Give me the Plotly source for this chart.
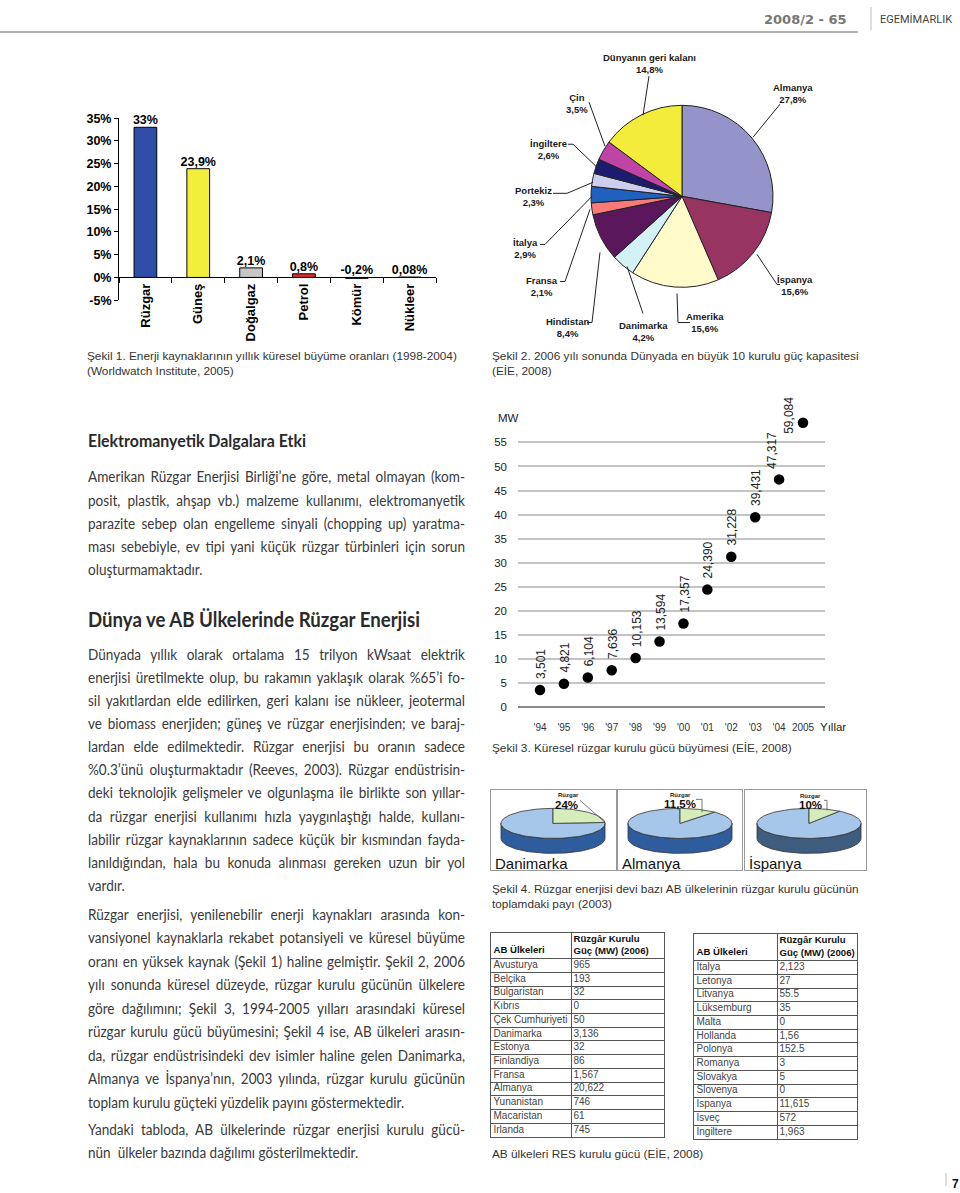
import math
import json
import plotly.graph_objects as go

W, H = 960, 1193
def X(px): return px / W
# the photographed page maps paper height onto ~1177 px starting 8 px down; compensate
def Y(py): return 1 - (py - 8) / 1177

BODY = "Lato, Roboto, sans-serif"
CAP = "'Liberation Sans', Arial, sans-serif"
ARIAL = "Arial, 'Liberation Sans', sans-serif"

# ---------------- Şekil 1 data ----------------
sources = ["Rüzgar", "Güneş", "Doğalgaz", "Petrol", "Kömür", "Nükleer"]
growth = [33, 23.9, 2.1, 0.8, -0.2, 0.08]
bar_colors = ["#2F4DA6", "#F2EF3C", "#C6C6C6", "#E02A2A", "#1A1A1A", "#FFFFFF"]
growth_ticks = [-5, 0, 5, 10, 15, 20, 25, 30, 35]

# ---------------- Şekil 2 data ----------------
countries = ["Almanya", "İspanya", "Amerika", "Danimarka", "Hindistan", "Fransa",
             "İtalya", "Portekiz", "İngiltere", "Çin", "Dünyanın geri kalanı"]
shares = [27.8, 15.6, 15.6, 4.2, 8.4, 2.1, 2.9, 2.3, 2.6, 3.5, 14.8]
pie_colors = ["#9494CA", "#973462", "#FFFBCB", "#D2F2F6", "#5A175C", "#F97A78",
              "#2060BE", "#CFCDEE", "#1C1B6E", "#C044A6", "#F3EC3A"]

# ---------------- Şekil 3 data ----------------
years = list(range(1994, 2006))
year_labels = ["'94", "'95", "'96", "'97", "'98", "'99", "'00", "'01", "'02", "'03", "'04", "2005"]
capacity = [3.501, 4.821, 6.104, 7.636, 10.153, 13.594, 17.357, 24.390, 31.228, 39.431, 47.317, 59.084]
capacity_labels = ["3,501", "4,821", "6,104", "7,636", "10,153", "13,594", "17,357",
                   "24,390", "31,228", "39,431", "47,317", "59,084"]
mw_ticks = [0, 5, 10, 15, 20, 25, 30, 35, 40, 45, 50, 55]

# ---------------- Şekil 4 data ----------------
eu3 = ["Danimarka", "Almanya", "İspanya"]
wind_share = [24, 11.5, 10]
wind_share_labels = ["24%", "11,5%", "10%"]

# ---------------- Tables ----------------
t1_countries = ["Avusturya", "Belçika", "Bulgaristan", "Kıbrıs", "Çek Cumhuriyeti", "Danimarka",
                "Estonya", "Finlandiya", "Fransa", "Almanya", "Yunanistan", "Macaristan", "İrlanda"]
t1_values = ["965", "193", "32", "0", "50", "3,136", "32", "86", "1,567", "20,622", "746", "61", "745"]
t2_countries = ["İtalya", "Letonya", "Litvanya", "Lüksemburg", "Malta", "Hollanda", "Polonya",
                "Romanya", "Slovakya", "Slovenya", "İspanya", "İsveç", "İngiltere"]
t2_values = ["2,123", "27", "55.5", "35", "0", "1,56", "152.5", "3", "5", "0", "11,615", "572", "1,963"]
table_header_1 = "<b>AB Ülkeleri</b>"
table_header_2 = "<b>Rüzgâr Kurulu<br>Güç (MW) (2006)</b>"

# ---------------- Body text ----------------
title1 = "Elektromanyetik Dalgalara Etki"
para1 = [
    "Amerikan Rüzgar Enerjisi Birliği’ne göre, metal olmayan (kom-",
    "posit, plastik, ahşap vb.) malzeme kullanımı, elektromanyetik",
    "parazite sebep olan engelleme sinyali (chopping up) yaratma-",
    "ması sebebiyle, ev tipi yani küçük rüzgar türbinleri için sorun",
    "oluşturmamaktadır.",
]
title2 = "Dünya ve AB Ülkelerinde Rüzgar Enerjisi"
para2 = [
    "Dünyada yıllık olarak ortalama 15 trilyon kWsaat elektrik",
    "enerjisi üretilmekte olup, bu rakamın yaklaşık olarak %65’i fo-",
    "sil yakıtlardan elde edilirken, geri kalanı ise nükleer, jeotermal",
    "ve biomass enerjiden; güneş ve rüzgar enerjisinden; ve baraj-",
    "lardan elde edilmektedir. Rüzgar enerjisi bu oranın sadece",
    "%0.3’ünü oluşturmaktadır (Reeves, 2003). Rüzgar endüstrisin-",
    "deki teknolojik gelişmeler ve olgunlaşma ile birlikte son yıllar-",
    "da rüzgar enerjisi kullanımı hızla yaygınlaştığı halde, kullanı-",
    "labilir rüzgar kaynaklarının sadece küçük bir kısmından fayda-",
    "lanıldığından, hala bu konuda alınması gereken uzun bir yol",
    "vardır.",
]
para3 = [
    "Rüzgar enerjisi, yenilenebilir enerji kaynakları arasında kon-",
    "vansiyonel kaynaklarla rekabet potansiyeli ve küresel büyüme",
    "oranı en yüksek kaynak (Şekil 1) haline gelmiştir. Şekil 2, 2006",
    "yılı sonunda küresel düzeyde, rüzgar kurulu gücünün ülkelere",
    "göre dağılımını; Şekil 3, 1994-2005 yılları arasındaki küresel",
    "rüzgar kurulu gücü büyümesini; Şekil 4 ise, AB ülkeleri arasın-",
    "da, rüzgar endüstrisindeki dev isimler haline gelen Danimarka,",
    "Almanya ve İspanya’nın, 2003 yılında, rüzgar kurulu gücünün",
    "toplam kurulu güçteki yüzdelik payını göstermektedir.",
]
para4 = [
    "Yandaki tabloda, AB ülkelerinde rüzgar enerjisi kurulu gücü-",
    "nün  ülkeler bazında dağılımı gösterilmektedir.",
]

fig = go.Figure()

def txt(s, px, py, size, color="#333", family=BODY, anchor="left", weight="normal", vanchor="middle", align="left"):
    fig.add_annotation(x=X(px), y=Y(py), xref="paper", yref="paper", text=s, showarrow=False,
                       xanchor=anchor, yanchor=vanchor, align=align,
                       font=dict(family=family, size=size, color=color, weight=weight))

def pline(pts, color="#222", width=1):
    d = "M " + " L ".join(f"{X(a)},{Y(b)}" for a, b in pts)
    fig.add_shape(type="path", path=d, xref="paper", yref="paper",
                  line=dict(color=color, width=width))

# ================= Şekil 1: bar chart =================
fig.add_trace(go.Bar(x=sources, y=growth, width=0.43,
                     marker=dict(color=bar_colors, line=dict(color="black", width=1)),
                     xaxis="x", yaxis="y", showlegend=False, hoverinfo="skip"))
bar_text = [f"{v:g}".replace(".", ",") + "%" for v in growth]
fig.add_trace(go.Scatter(x=sources, y=[max(v, 0) for v in growth], mode="text", text=bar_text,
                         textposition="top center", cliponaxis=False,
                         textfont=dict(family=ARIAL, size=12.5, color="black", weight="bold"),
                         xaxis="x", yaxis="y", showlegend=False, hoverinfo="skip"))
b_top, b_bot = 119, 300.7
zero_px = b_top + 35 * (b_bot - b_top) / 40

# ================= Şekil 2: pie =================
fig.add_trace(go.Pie(values=shares, labels=countries, sort=False, direction="clockwise", rotation=0,
                     marker=dict(colors=pie_colors, line=dict(color="#222", width=1)),
                     textinfo="none", hoverinfo="label+percent", showlegend=False,
                     domain=dict(x=[X(591), X(773)], y=[Y(288), Y(106)])))
pie_label_pos = {
    "Dünyanın geri kalanı": (649, 64), "Almanya": (793, 94), "Çin": (577, 104),
    "İngiltere": (548, 150), "Portekiz": (533, 197), "İtalya": (525, 249),
    "Fransa": (542, 287), "Hindistan": (567, 328), "Danimarka": (643, 332),
    "Amerika": (705, 323), "İspanya": (795, 286),
}
pie_leaders = {
    "Dünyanın geri kalanı": [(649, 77), (643, 116)],
    "Almanya": [(780, 105), (753, 138)],
    "Çin": [(589, 103), (605, 147)],
    "İngiltere": [(568, 145), (573, 145), (597, 168)],
    "Portekiz": [(553, 194), (567, 194), (593, 183)],
    "İtalya": [(540, 245), (545, 245), (592, 197)],
    "Fransa": [(560, 282), (565, 282), (590, 210)],
    "Hindistan": [(587, 323), (592, 323), (600, 253)],
    "Danimarka": [(643, 314), (627, 267)],
    "Amerika": [(690, 323), (678, 323), (677, 294)],
    "İspanya": [(780, 285), (777, 285), (757, 255)],
}
for name, val in zip(countries, shares):
    px, py = pie_label_pos[name]
    txt(f"{name}<br>{val:.1f}%".replace(".", ","), px, py, 9.5, color="#1a1a1a", family=ARIAL,
        anchor="center", weight="bold", align="center")
    pline(pie_leaders[name], color="#222", width=1)

# ================= Şekil 3: scatter =================
fig.add_trace(go.Scatter(x=years, y=capacity, mode="markers",
                         marker=dict(size=10.5, color="black"),
                         xaxis="x2", yaxis="y2", showlegend=False, hoverinfo="x+y"))
for yr, v, lab in zip(years, capacity, capacity_labels):
    kw = dict(xanchor="center", yanchor="bottom", xshift=1, yshift=9)
    if yr == 2005:
        kw = dict(xanchor="right", yanchor="middle", xshift=-5, yshift=7)
    elif yr == 2004:
        kw = dict(xanchor="center", yanchor="bottom", xshift=-7, yshift=8)
    fig.add_annotation(x=yr, y=v, xref="x2", yref="y2", text=lab, textangle=-90, showarrow=False,
                       font=dict(family=ARIAL, size=12, color="#222"), **kw)
txt("MW", 496, 418, 11.5, color="#222", family=ARIAL)
txt("Yıllar", 833, 727, 11.5, color="#222", family=ARIAL, anchor="center")
s_top = 706.7 - 61 * 4.8

# ================= Şekil 4: 3D pies =================
boxes = [(491, 616), (618, 742), (745, 866)]
box_top, box_bot = 790, 870
centers = [62, 62, 64]
side_colors = ["#2E5C9C", "#2E5C9C", "#3E5D7E"]
label_offsets = [(77, 5, 75, 15), (62, 5, 62, 14), (65, 6, 65, 15)]
leaders4 = [
    [(89, 10), (114, 32)],
    [(78, 9), (84, 9), (84, 22)],
    [(79, 10), (82, 10), (82, 20)],
]
rx, ry, depth, cy = 52, 15, 15, 33

def ell(cx, t, dy=0):
    r = math.radians(t)
    return cx + rx * math.sin(r), cy - ry * math.cos(r) + dy

for k, (name, share, slab) in enumerate(zip(eu3, wind_share, wind_share_labels)):
    xa, ya = f"x{k+3}", f"y{k+3}"
    cx = centers[k]
    ang = share * 3.6
    top = [ell(cx, 90 + i * 3) for i in range(61)]
    bot = [ell(cx, 270 - i * 3, depth) for i in range(61)]
    pts = top + bot + [top[0]]
    fig.add_trace(go.Scatter(x=[p[0] for p in pts], y=[p[1] for p in pts], fill="toself",
                             fillcolor=side_colors[k], mode="lines", line=dict(color="#333", width=0.8),
                             xaxis=xa, yaxis=ya, showlegend=False, hoverinfo="skip"))
    n = 90
    arc = [ell(cx, ang + (360 - ang) * i / n) for i in range(n + 1)]
    pts = [(cx, cy)] + arc + [(cx, cy)]
    fig.add_trace(go.Scatter(x=[p[0] for p in pts], y=[p[1] for p in pts], fill="toself",
                             fillcolor="#A7C7EA", mode="lines", line=dict(color="#333", width=0.8),
                             xaxis=xa, yaxis=ya, showlegend=False, hoverinfo="skip"))
    arc = [ell(cx, ang * i / 30) for i in range(31)]
    pts = [(cx, cy)] + arc + [(cx, cy)]
    fig.add_trace(go.Scatter(x=[p[0] for p in pts], y=[p[1] for p in pts], fill="toself",
                             fillcolor="#D5EDBB", mode="lines", line=dict(color="#333", width=0.8),
                             xaxis=xa, yaxis=ya, showlegend=False, hoverinfo="skip"))
    lx1, ly1, lx2, ly2 = label_offsets[k]
    fig.add_annotation(x=lx1, y=ly1, xref=xa, yref=ya, text="Rüzgar", showarrow=False,
                       font=dict(family=ARIAL, size=6, color="#222", weight="bold"))
    fig.add_annotation(x=lx2, y=ly2, xref=xa, yref=ya, text=slab, showarrow=False,
                       font=dict(family=ARIAL, size=11.5, color="#111", weight="bold"))
    lp = leaders4[k]
    fig.add_trace(go.Scatter(x=[p[0] for p in lp], y=[p[1] for p in lp], mode="lines",
                             line=dict(color="#555", width=0.8), xaxis=xa, yaxis=ya,
                             showlegend=False, hoverinfo="skip"))
    fig.add_annotation(x=2, y=73, xref=xa, yref=ya, text=name, showarrow=False,
                       xanchor="left", yanchor="middle",
                       font=dict(family=CAP, size=15, color="#111"))

# ================= Tables (drawn on cartesian axes) =================
tables = [
    dict(names=t1_countries, vals=t1_values, x0=491, x1=664, y0=932, y1=1136, col=80, head=26),
    dict(names=t2_countries, vals=t2_values, x0=694, x1=857, y0=933, y1=1138, col=83, head=27),
]
table_axes = {}
for k, t in enumerate(tables):
    ax = k + 6
    w = t["x1"] - t["x0"]
    h = t["y1"] - t["y0"]
    nrow = len(t["names"])
    rh = (h - t["head"]) / nrow
    bounds = [t["head"] + rh * i for i in range(nrow)]
    centers_y = [t["head"] + rh * (i + 0.5) for i in range(nrow)]
    xa, ya = f"x{ax}", f"y{ax}"
    fig.add_trace(go.Scatter(x=[2.5] * nrow + [t["col"] + 2.5] * nrow, y=centers_y + centers_y,
                             text=t["names"] + t["vals"], mode="text", textposition="middle right",
                             textfont=dict(family=ARIAL, size=10, color="#444"),
                             xaxis=xa, yaxis=ya, showlegend=False, hoverinfo="skip", cliponaxis=False))
    fig.add_trace(go.Scatter(x=[2.5, t["col"] + 2.5], y=[t["head"] - 8, t["head"] / 2],
                             text=[table_header_1, table_header_2], mode="text",
                             textposition="middle right",
                             textfont=dict(family=ARIAL, size=9.6, color="#111"),
                             xaxis=xa, yaxis=ya, showlegend=False, hoverinfo="skip", cliponaxis=False))
    grid = dict(showline=True, mirror=True, linecolor="#555", linewidth=1, showticklabels=False,
                ticks="", showgrid=True, gridcolor="#555", gridwidth=1, zeroline=False, fixedrange=True)
    table_axes[f"xaxis{ax}"] = dict(domain=[X(t["x0"]), X(t["x1"])], range=[0, w], anchor=ya,
                                    tickvals=[t["col"]], **grid)
    table_axes[f"yaxis{ax}"] = dict(domain=[Y(t["y1"]), Y(t["y0"])], range=[h, 0], anchor=xa,
                                    tickvals=bounds, **grid)

# ================= Text =================
txt("2008/2 - 65", 849, 20, 13, color="#777", family="'DejaVu Sans', sans-serif", anchor="right", weight="bold")
txt("EGEMİMARLIK", 878, 20, 11, color="#444", family="Roboto, sans-serif")
pline([(0, 33), (858, 33)], color="#999", width=1.5)
pline([(871, 8), (871, 31)], color="#bbb", width=1)
txt("7", 955, 1183, 12, color="#111", family=ARIAL, anchor="center", weight="bold")
pline([(946, 1172), (946, 1185)], color="#bbb", width=1)

txt("Şekil 1. Enerji kaynaklarının yıllık küresel büyüme oranları (1998-2004)", 85, 356, 11.8, family=CAP)
txt("(Worldwatch Institute, 2005)", 85, 371, 11.8, family=CAP)
txt("Şekil 2. 2006 yılı sonunda Dünyada en büyük 10 kurulu güç kapasitesi", 490, 356, 11.8, family=CAP)
txt("(EİE, 2008)", 490, 371, 11.8, family=CAP)
txt("Şekil 3. Küresel rüzgar kurulu gücü büyümesi (EİE, 2008)", 490, 748, 11.8, family=CAP)
txt("Şekil 4. Rüzgar enerjisi devi bazı AB ülkelerinin rüzgar kurulu gücünün", 490, 889, 11.8, family=CAP)
txt("toplamdaki payı (2003)", 490, 903, 11.8, family=CAP)
txt("AB ülkeleri RES kurulu gücü (EİE, 2008)", 490, 1153, 11.8, family=CAP)

BODY_SIZE = 14.5
txt(title1, 86, 441, 16.5, color="#2a2a2a", weight="bold")
for i, s in enumerate(para1):
    txt(s, 86, 477 + i * 23.25, BODY_SIZE, color="#3a3a3a")
txt(title2, 86, 619, 20, color="#2a2a2a", weight="bold")
for i, s in enumerate(para2):
    txt(s, 86, 654 + i * 23.1, BODY_SIZE, color="#3a3a3a")
for i, s in enumerate(para3):
    txt(s, 86, 914 + i * 23.4, BODY_SIZE, color="#3a3a3a")
for i, s in enumerate(para4):
    txt(s, 86, 1129 + i * 23, BODY_SIZE, color="#3a3a3a")

# text fitting: justified lines ('j'), last lines only condensed ('c'), headings to a width ('w')
fit = {}
for p in (para1, para2, para3, para4):
    for i, s in enumerate(p):
        fit[s] = ["j", 377] if i < len(p) - 1 else ["c", 0]
fit[title1] = ["w", 218]
fit[title2] = ["w", 332]

# ================= Layout =================
hidden = dict(showline=True, mirror=True, linecolor="#999", linewidth=1, showticklabels=False,
              ticks="", showgrid=False, zeroline=False, fixedrange=True)
layout_axes = {}
for k, (bx0, bx1) in enumerate(boxes):
    layout_axes[f"xaxis{k+3}"] = dict(domain=[X(bx0), X(bx1)], range=[0, bx1 - bx0], anchor=f"y{k+3}", **hidden)
    layout_axes[f"yaxis{k+3}"] = dict(domain=[Y(box_bot), Y(box_top)], range=[box_bot - box_top, 0],
                                      anchor=f"x{k+3}", **hidden)
layout_axes.update(table_axes)

fig.update_layout(
    width=W, height=H, margin=dict(l=0, r=0, t=0, b=0), autosize=False,
    paper_bgcolor="white", plot_bgcolor="rgba(0,0,0,0)", showlegend=False,
    xaxis=dict(domain=[X(119), X(436)], anchor="free", position=Y(zero_px), range=[-0.5, 5.5],
               showline=True, linecolor="black", linewidth=1, ticks="outside", tickson="boundaries",
               ticklen=5, tickcolor="black", tickangle=-90,
               tickfont=dict(family=ARIAL, size=13, color="black", weight="bold"),
               showgrid=False, zeroline=False, fixedrange=True),
    yaxis=dict(domain=[Y(b_bot), Y(b_top)], anchor="x", range=[-5, 35], tickvals=growth_ticks,
               ticktext=[f"{v}%" for v in growth_ticks], showline=True, linecolor="black", linewidth=1,
               ticks="outside", ticklen=4, tickcolor="black", showgrid=False, zeroline=False,
               tickfont=dict(family=ARIAL, size=12.5, color="black", weight="bold"), fixedrange=True),
    xaxis2=dict(domain=[X(518), X(825)], anchor="y2", range=[1993.08, 2005.92], tickvals=years,
                ticktext=year_labels, showgrid=False, showline=False, zeroline=False, ticks="",
                ticklabelstandoff=13, tickfont=dict(family=ARIAL, size=10, color="#333"), fixedrange=True),
    yaxis2=dict(domain=[Y(706.7), Y(s_top)], anchor="x2", range=[0, 61], tickvals=mw_ticks,
                showgrid=True, gridcolor="#C4C4C4", gridwidth=1.5, zeroline=True, zerolinecolor="#8a8a8a",
                zerolinewidth=1.5, showline=False, ticks="", ticklabelstandoff=10,
                tickfont=dict(family=ARIAL, size=11.5, color="#222"), fixedrange=True),
    **layout_axes,
)

post = """
document.body.style.margin='0';
document.body.style.overflow='hidden';
(function(){
  var F = %s;
  var C = 0.935;
  document.querySelectorAll('text.annotation-text').forEach(function(t){
    var s = t.textContent;
    if (!F.hasOwnProperty(s)) return;
    var mode = F[s][0], target = F[s][1];
    var L = t.getComputedTextLength();
    if (mode === 'j') {
      var n = (s.match(/ /g) || []).length;
      if (n > 0) t.setAttribute('word-spacing', ((target / C - L) / n).toFixed(2) + 'px');
      t.setAttribute('textLength', target);
    } else if (mode === 'c') {
      t.setAttribute('textLength', (L * C).toFixed(1));
    } else {
      t.setAttribute('textLength', target);
    }
    t.setAttribute('lengthAdjust', 'spacingAndGlyphs');
  });
})();
""" % json.dumps(fit, ensure_ascii=False)

fig.write_html("out.html", config={"displayModeBar": False}, post_script=post)
